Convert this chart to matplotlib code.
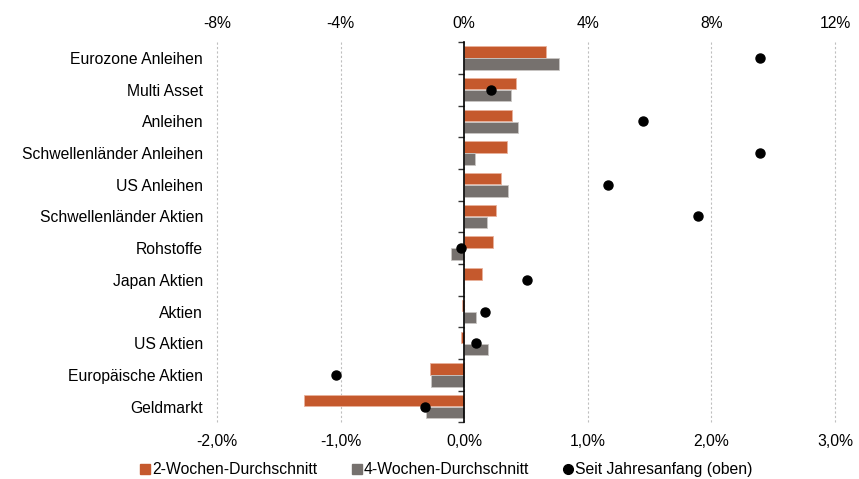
import matplotlib.pyplot as plt
from matplotlib.lines import Line2D
import numpy as np

plt.rcParams['font.family'] = ['Liberation Sans', 'DejaVu Sans']

categories = ["Eurozone Anleihen", "Multi Asset", "Anleihen", "Schwellenländer Anleihen",
              "US Anleihen", "Schwellenländer Aktien", "Rohstoffe", "Japan Aktien",
              "Aktien", "US Aktien", "Europäische Aktien", "Geldmarkt"]
# flows in % (bottom axis)
two_weeks = [0.666, 0.418, 0.387, 0.346, 0.302, 0.261, 0.231, 0.143, -0.015, -0.027, -0.275, -1.294]
four_weeks = [0.767, 0.377, 0.438, 0.085, 0.353, 0.187, -0.109, -0.010, 0.095, 0.194, -0.268, -0.312]
# year to date in % (top axis)
ytd = [9.56, 0.86, 5.80, 9.59, 4.66, 7.56, -0.10, 2.02, 0.69, 0.38, -4.14, -1.28]

bottom_ticks = [-2, -1, 0, 1, 2, 3]
top_ticks = [-8, -4, 0, 4, 8, 12]

orange = "#C5592D"
grey = "#76716E"
fs = 11.3

fig = plt.figure(figsize=(8.59, 4.79), dpi=100)
ax = fig.add_axes([0.2526, 0.118, 0.7194, 0.794])

y = np.arange(len(categories))
h = 0.36
ax.barh(y - 0.19, two_weeks, height=h, color=orange, edgecolor="#E9B19B", linewidth=0.6, zorder=2)
ax.barh(y + 0.19, four_weeks, height=h, color=grey, edgecolor="#C9C6C4", linewidth=0.6, zorder=2)

ax.set_ylim(len(categories) - 0.5, -0.5)
ax.set_xlim(bottom_ticks[0], bottom_ticks[-1])
ax.set_xticks(bottom_ticks)
ax.set_xticklabels([f"{t:.1f}%".replace(".", ",") for t in bottom_ticks], fontsize=fs)
ax.set_yticks(y)
ax.set_yticklabels(categories, fontsize=fs)
ax.tick_params(axis="y", length=0, pad=10)
ax.tick_params(axis="x", length=0, pad=8)
for s in ax.spines.values():
    s.set_visible(False)
ax.grid(axis="x", color="#BFBFBF", linestyle=(0, (2, 2)), linewidth=0.8, zorder=0)
ax.set_axisbelow(True)
for gl in ax.xaxis.get_gridlines():
    gl.set_clip_on(False)

# zero line with category separators
sep = ax.twinx()
sep.set_ylim(ax.get_ylim())
for s in sep.spines.values():
    s.set_visible(False)
sep.spines["left"].set_visible(True)
sep.spines["left"].set_position(("data", 0))
sep.spines["left"].set_linewidth(1.2)
sep.yaxis.set_ticks_position("left")
sep.set_yticks(np.arange(len(categories) + 1) - 0.5)
sep.set_yticklabels([])
sep.tick_params(axis="y", direction="out", length=4, width=1, color="#333333")

# year-to-date dots on the top axis
ax2 = ax.twiny()
ax2.set_xlim(top_ticks[0], top_ticks[-1])
ax2.set_ylim(ax.get_ylim())
ax2.plot(ytd, y, "o", color="black", markersize=6.5, zorder=5)
ax2.set_xticks(top_ticks)
ax2.set_xticklabels([f"{t}%" for t in top_ticks], fontsize=fs)
ax2.tick_params(axis="x", length=0, pad=8)
for s in ax2.spines.values():
    s.set_visible(False)

handles = [
    Line2D([], [], marker="s", linestyle="", color=orange, markersize=7),
    Line2D([], [], marker="s", linestyle="", color=grey, markersize=7),
    Line2D([], [], marker="o", linestyle="", color="black", markersize=7),
]
labels = ["2-Wochen-Durchschnitt", "4-Wochen-Durchschnitt", "Seit Jahresanfang (oben)"]
fig.legend(handles, labels, loc="lower center", bbox_to_anchor=(0.52, -0.026), ncol=3,
           frameon=False, fontsize=fs, handlelength=0.6, handletextpad=0.15, columnspacing=2.2)

fig.savefig("out.png", dpi=100)
